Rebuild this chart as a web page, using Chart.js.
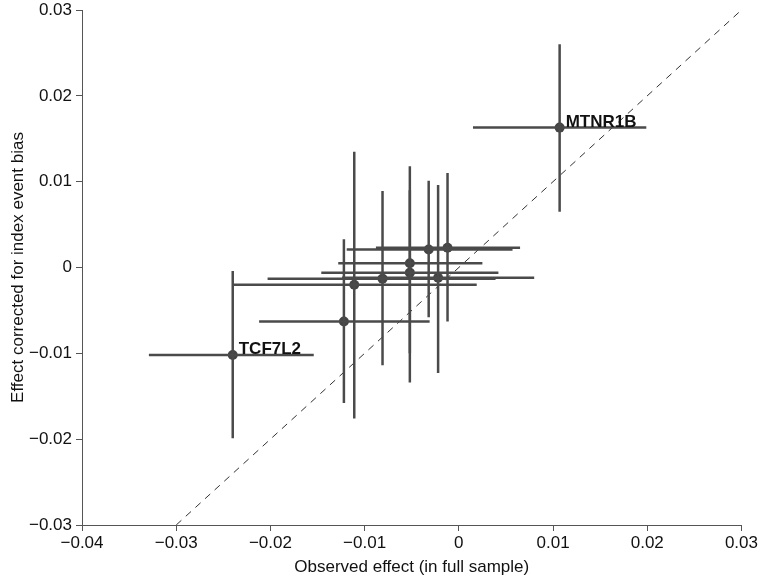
<!DOCTYPE html>
<html>
<head>
<meta charset="utf-8">
<script src="https://cdn.jsdelivr.net/npm/chart.js@4/dist/chart.umd.min.js"></script>
<style>
  html, body { margin: 0; padding: 0; background: #fff; }
</style>
</head>
<body>
<canvas id="effectChart" width="760" height="582"></canvas>
<script>
// observed effect (x) and corrected effect (y), with their CI bounds
const names = ['MTNR1B', 'TCF7L2', '', '', '', '', '', '', '', ''];
const xs   = [0.0107, -0.0240, -0.0032, -0.0012, -0.0052, -0.0052, -0.0081, -0.0022, -0.0122, -0.0111];
const ys   = [0.0163, -0.0102,  0.0021,  0.0023,  0.0005, -0.0006, -0.0013, -0.0012, -0.0063, -0.0020];
const xLo  = [0.0015, -0.0329, -0.0119, -0.0088, -0.0128, -0.0146, -0.0203, -0.0124, -0.0212, -0.0240];
const xHi  = [0.0199, -0.0154,  0.0057,  0.0065,  0.0025,  0.0042,  0.0039,  0.0080, -0.0031,  0.0019];
const yLo  = [0.0065, -0.0199, -0.0058, -0.0063, -0.0134, -0.0100, -0.0114, -0.0123, -0.0158, -0.0176];
const yHi  = [0.0260, -0.0004,  0.0101,  0.0110,  0.0118,  0.0090,  0.0089,  0.0096,  0.0033,  0.0135];

const xTicks = [-0.04, -0.03, -0.02, -0.01, 0, 0.01, 0.02, 0.03];
const yTicks = [-0.03, -0.02, -0.01, 0, 0.01, 0.02, 0.03];
const identityLine = [-0.03, 0.03];

const barColor = '#4a4a4a';
const fontFamily = '"Liberation Sans", Arial, Helvetica, sans-serif';

const fmt = v => (v === 0 ? '0' : v.toFixed(2).replace('-', '\u2212'));

const datasets = [];
xs.forEach((x, i) => {
  datasets.push({
    data: [{ x: xLo[i], y: ys[i] }, { x: xHi[i], y: ys[i] }],
    showLine: true, borderColor: barColor, borderWidth: 2.5, pointRadius: 0
  });
  datasets.push({
    data: [{ x: x, y: yLo[i] }, { x: x, y: yHi[i] }],
    showLine: true, borderColor: barColor, borderWidth: 2.5, pointRadius: 0
  });
});
datasets.push({
  data: xs.map((x, i) => ({ x: x, y: ys[i] })),
  pointRadius: 5, pointBackgroundColor: '#444', pointBorderWidth: 0
});
datasets.push({
  data: identityLine.map(v => ({ x: v, y: v })),
  showLine: true, borderColor: '#333', borderWidth: 1, borderDash: [7, 6], pointRadius: 0
});

const pointLabels = {
  id: 'pointLabels',
  afterDatasetsDraw(chart) {
    const ctx = chart.ctx;
    const sx = chart.scales.x, sy = chart.scales.y;
    ctx.save();
    ctx.font = 'bold 17px ' + fontFamily;
    ctx.fillStyle = '#111';
    ctx.textBaseline = 'alphabetic';
    names.forEach((n, i) => {
      if (!n) return;
      ctx.fillText(n, sx.getPixelForValue(xs[i]) + 6, sy.getPixelForValue(ys[i]) - 1);
    });
    ctx.restore();
  }
};

const axisCommon = {
  type: 'linear',
  grid: { drawOnChartArea: false, drawTicks: true, tickLength: 6, color: '#555' },
  border: { display: true, color: '#555', width: 1 },
  ticks: { color: '#111', font: { family: fontFamily, size: 17 }, callback: v => fmt(v) }
};

new Chart(document.getElementById('effectChart'), {
  type: 'scatter',
  data: { datasets: datasets },
  options: {
    responsive: false,
    animation: false,
    layout: { padding: { top: 0, right: 17, left: 0, bottom: 0 } },
    plugins: { legend: { display: false }, tooltip: { enabled: false } },
    scales: {
      x: Object.assign({}, axisCommon, {
        min: -0.04, max: 0.03,
        afterBuildTicks: s => { s.ticks = xTicks.map(v => ({ value: v })); },
        afterFit: s => { s.height = 57; },
        ticks: Object.assign({}, axisCommon.ticks, { padding: 2, maxRotation: 0 }),
        title: { display: true, text: 'Observed effect (in full sample)', color: '#111',
                 font: { family: fontFamily, size: 17 }, padding: { top: 0, bottom: 4 } }
      }),
      y: Object.assign({}, axisCommon, {
        min: -0.03, max: 0.03,
        afterBuildTicks: s => { s.ticks = yTicks.map(v => ({ value: v })); },
        afterFit: s => { s.width = 82; s.paddingTop = 10; s.paddingBottom = 0; },
        ticks: Object.assign({}, axisCommon.ticks, { padding: 4 }),
        title: { display: true, text: 'Effect corrected for index event bias', color: '#111',
                 font: { family: fontFamily, size: 17 }, padding: { top: 8, bottom: 0 } }
      })
    }
  },
  plugins: [pointLabels]
});
</script>
</body>
</html>
